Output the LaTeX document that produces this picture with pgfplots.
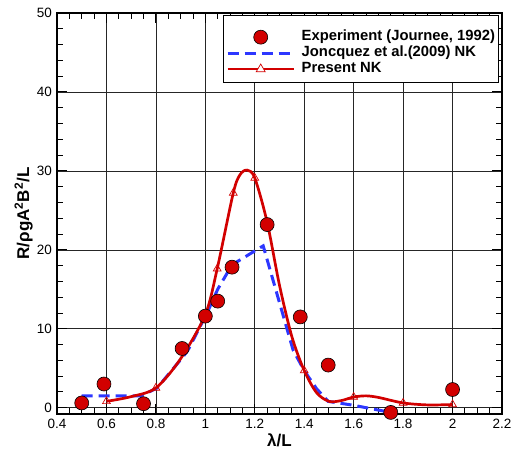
\documentclass[border=0pt]{standalone}
\usepackage{fontspec}
\setmainfont{Liberation Sans}
\usepackage{pgfplots}
\pgfplotsset{compat=1.18}
\definecolor{myred}{RGB}{210,0,0}
\definecolor{myblue}{RGB}{45,55,255}
\pgfplotsset{
  legcirc/.style={legend image code/.code={\draw[##1] plot coordinates {(33pt,0pt)};}},
  legline/.style={legend image code/.code={\draw[##1] (0pt,0pt)--(66pt,0pt);}},
  legtri/.style={legend image code/.code={\draw[##1] (0pt,0pt)--(66pt,0pt);
     \draw[myred, line width=0.7pt, fill=white] (33pt,5pt)--(28.5pt,-2.8pt)--(37.5pt,-2.8pt)--cycle;}},
}
\begin{document}
\begin{tikzpicture}
\begin{axis}[
  scale only axis, width=445pt, height=401pt,
  xmin=0.4, xmax=2.2, ymin=-0.8, ymax=50,
  xtick={0.4,0.6,...,2.2}, ytick={0,10,...,50},
  xticklabels={0.4,0.6,0.8,1,1.2,1.4,1.6,1.8,2,2.2},
  minor x tick num=3, minor y tick num=4,
  tick align=inside, major tick length=10pt, minor tick length=6pt,
  xtick pos=both, ytick pos=both,
  axis line style={line width=1.6pt},
  every tick/.style={black, line width=0.9pt},
  grid=major, major grid style={black!85, line width=0.6pt},
  /pgf/number format/assume math mode=true,
  ticklabel style={font=\fontsize{13.5}{15}\selectfont},
  xticklabel style={yshift=-2pt},
  yticklabel style={xshift=-1.5pt},
  xlabel={\textbf{λ/L}},
  ylabel={\textbf{R/ρgA\textsuperscript{2}B\textsuperscript{2}/L}},
  label style={font=\fontsize{17}{19}\selectfont},
  xlabel style={at={(axis description cs:0.5,0)}, anchor=center, yshift=-26pt},
  ylabel style={at={(axis description cs:-0.075,0.5)}, anchor=center, rotate=0},
  legend style={at={(rel axis cs:0.3798,0.960)}, anchor=north west,
    font=\bfseries\fontsize{14.8}{16}\selectfont, draw=none, fill=none,
    inner sep=0pt, row sep=0pt,
    nodes={text height=10.5pt, text depth=3pt, inner ysep=1.2pt, inner xsep=1.5pt},
    /tikz/every odd column/.append style={column sep=5pt}},
  legend cell align=left,
]
\draw[black, line width=0.8pt, fill=white] (rel axis cs:0.375,0.828) rectangle (rel axis cs:0.991,0.995);
\addplot[only marks, mark=*, mark size=7pt, mark options={fill=myred, draw=black, line width=0.6pt}, legcirc]
  coordinates {(0.5,0.6)(0.59,3.0)(0.75,0.5)(0.906,7.5)(1.0,11.6)(1.05,13.5)(1.108,17.8)
  (1.25,23.2)(1.384,11.5)(1.497,5.4)(1.75,-0.6)(2.0,2.3)};
\addlegendentry{Experiment (Journee, 1992)}
\addplot[myblue, line width=3pt, dash pattern=on 11pt off 6pt, mark=none, legline]
  coordinates {(0.5,1.5)(0.6,1.5)(0.74,1.5)(0.805,2.5)(0.906,6.3)(0.93,7.3)(1.007,12)(1.05,15)
  (1.108,18.1)(1.234,20.5)(1.3,13.3)(1.355,7.3)(1.4,4.7)(1.45,2.4)(1.497,0.8)(1.6,0.3)(1.75,-0.6)};
\addlegendentry{Joncquez et al.(2009) NK}
\addplot[myred, line width=2.7pt, smooth, mark=none, legtri]
  coordinates {(0.6,0.8)(0.7,1.4)(0.8,2.5)(0.9,6.2)(1.0,11.8)(1.048,17.6)(1.113,27.2)(1.14,29.5)
  (1.169,30.1)(1.2,29.1)(1.25,23.5)(1.3,15.5)(1.35,9.0)(1.4,4.7)(1.45,1.9)(1.5,0.8)(1.55,0.9)
  (1.6,1.35)(1.65,1.5)(1.7,1.3)(1.8,0.6)(1.9,0.35)(2.0,0.4)};
\addlegendentry{Present NK}
\addplot[forget plot, only marks, mark=triangle, mark size=4.5pt, mark options={myred, line width=0.7pt}]
  coordinates {(0.6,0.8)(0.8,2.5)(1.048,17.6)(1.113,27.2)(1.2,29.1)(1.4,4.7)(1.6,1.35)(1.8,0.6)(2.0,0.4)};
\end{axis}
\pgfresetboundingbox
\path[use as bounding box] ([xshift=-57pt,yshift=-38pt]current axis.south west) rectangle ([xshift=11pt,yshift=13pt]current axis.north east);
\end{tikzpicture}
\end{document}
